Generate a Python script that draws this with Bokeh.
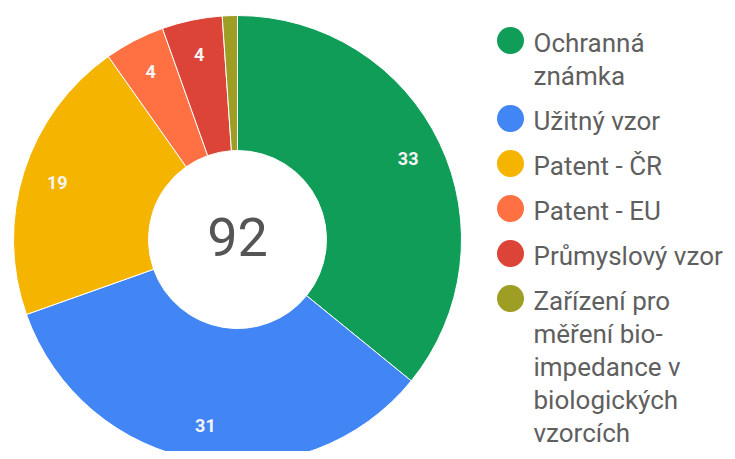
import numpy as np
from bokeh.plotting import figure
from bokeh.models import Range1d, ColumnDataSource
from bokeh.core.properties import value
from bokeh.embed import file_html
from bokeh.resources import INLINE

categories = ["Ochranná známka", "Užitný vzor", "Patent - ČR", "Patent - EU",
              "Průmyslový vzor", "Zařízení pro měření bio-impedance v biologických vzorcích"]
legend_lines = [["Ochranná", "známka"], ["Užitný vzor"], ["Patent - ČR"], ["Patent - EU"],
                ["Průmyslový vzor"],
                ["Zařízení pro", "měření bio-", "impedance v", "biologických", "vzorcích"]]
counts = [33, 31, 19, 4, 4, 1]
colors = ["#0F9D58", "#4285F4", "#F4B400", "#FF7043", "#DB4437", "#9E9D24"]
show_label = [True, True, True, True, True, False]

W, H = 727, 451
def sy(y):  # picture y (from top) -> data y
    return H - y
def sx(x):
    return x

cx, cy = sx(237), sy(239)
r_out, r_in, r_lab = 224, 89, 189

total = sum(counts)
cum = np.cumsum([0] + counts)
start = [np.pi / 2 - 2 * np.pi * cum[i + 1] / total for i in range(len(counts))]
end = [np.pi / 2 - 2 * np.pi * cum[i] / total for i in range(len(counts))]
mid = [(s + e) / 2 for s, e in zip(start, end)]

p = figure(width=W, height=H, x_range=Range1d(0, W), y_range=Range1d(0, H),
           output_backend="svg", toolbar_location=None, min_border=0,
           x_axis_type=None, y_axis_type=None)
p.grid.visible = False
p.outline_line_color = None
p.background_fill_color = "white"

src = ColumnDataSource(dict(start=start, end=end, color=colors, cat=categories, v=counts))
p.annular_wedge(x=cx, y=cy, inner_radius=r_in, outer_radius=r_out,
                start_angle="start", end_angle="end", fill_color="color",
                line_color="white", line_width=1, source=src)

lx = [cx + r_lab * np.cos(m) for m, s in zip(mid, show_label) if s]
ly = [cy + r_lab * np.sin(m) for m, s in zip(mid, show_label) if s]
lt = [str(c) for c, s in zip(counts, show_label) if s]
p.text(x=lx, y=ly, text=lt, text_font=value("Roboto"), text_font_size="18px",
       text_font_style="bold", text_color="#f4f4f4", text_align="center",
       text_baseline="middle")

p.text(x=[cx], y=[sy(236)], text=[str(total)], text_font=value("Roboto"),
       text_font_size="54px", text_color="#555555", text_align="center",
       text_baseline="middle")

# legend
mx, tx = sx(510), sx(533)
y = 42
my, tys, txs = [], [], []
for lines in legend_lines:
    my.append(sy(y - 2))
    for ln in lines:
        tys.append(sy(y))
        txs.append(ln)
        y += 33
    y += 12
p.scatter(x=[mx] * len(my), y=my, size=27, marker="circle", fill_color=colors,
          line_color=None)
p.text(x=[tx] * len(txs), y=tys, text=txs, text_font=value("Roboto"),
       text_font_size="26px", text_color="#5f5f5f", text_align="left",
       text_baseline="middle")

open("out.html", "w").write(file_html(p, INLINE))
